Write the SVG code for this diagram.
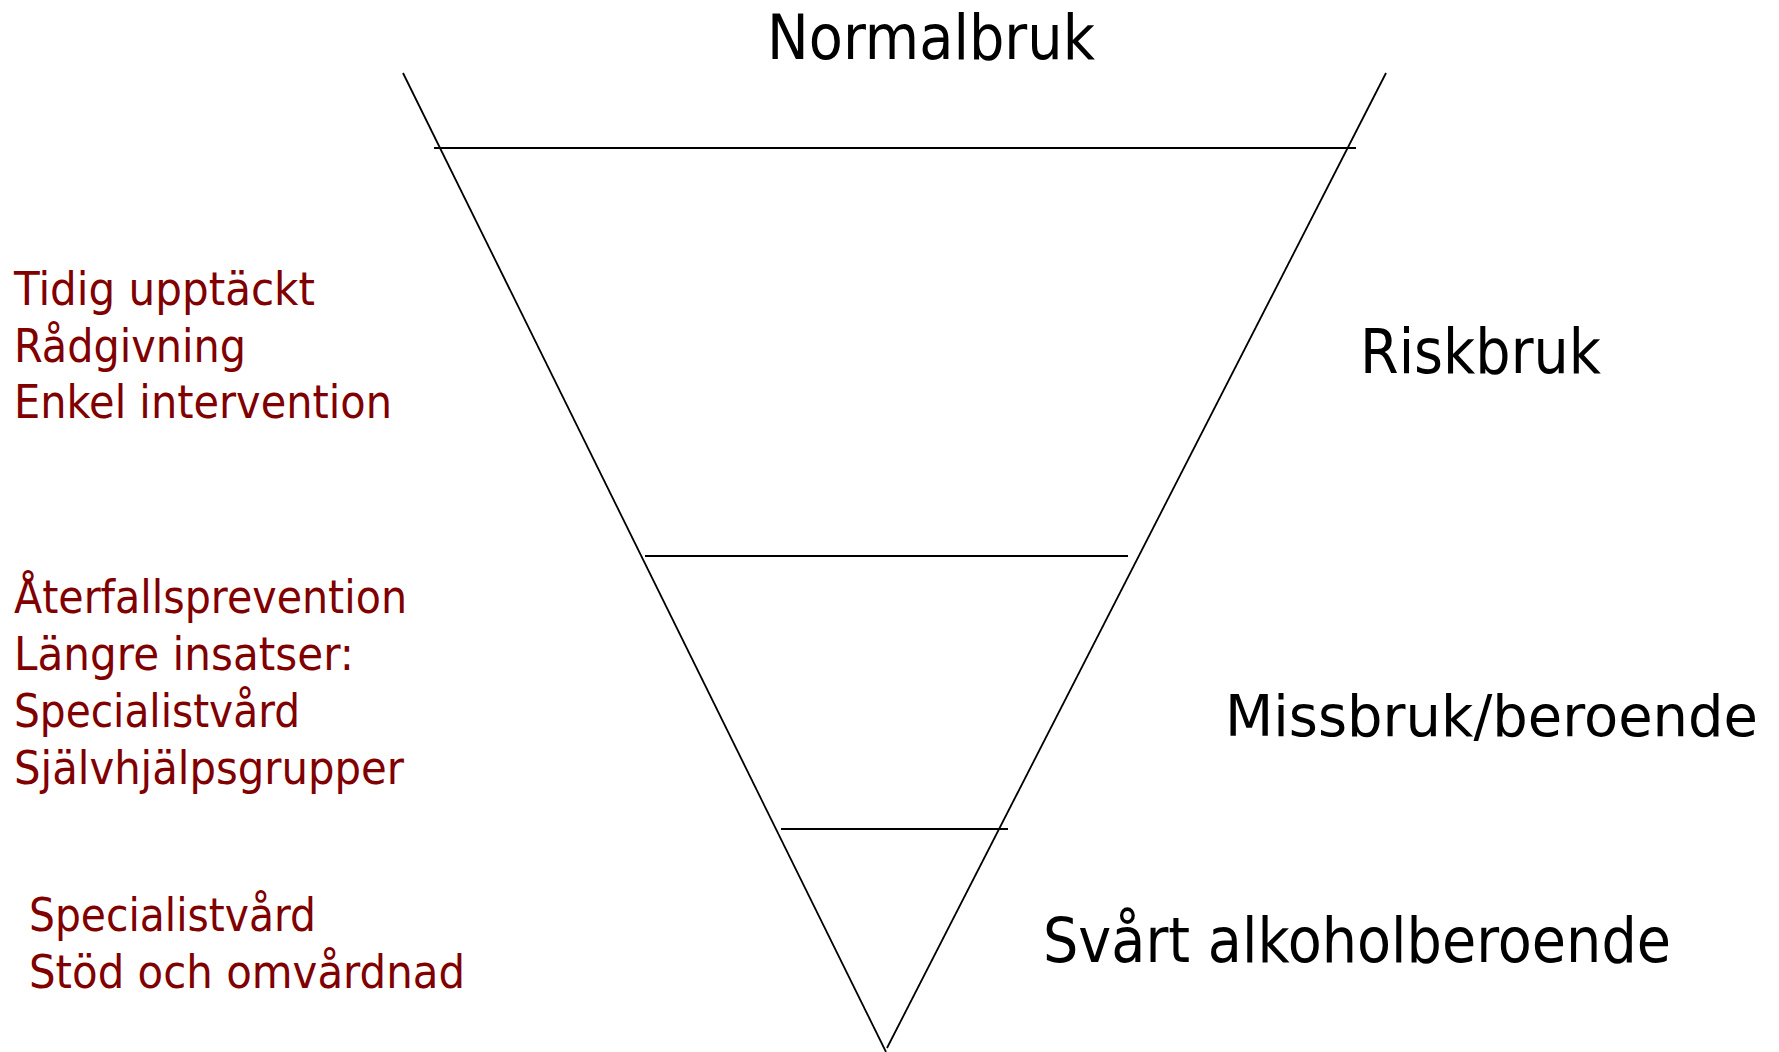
<svg xmlns="http://www.w3.org/2000/svg" width="1779" height="1052" viewBox="0 0 1779 1052">
<style>
.blk{font-family:"DejaVu Sans","Liberation Sans",sans-serif;font-size:63px;fill:#000}
.red{font-family:"DejaVu Sans","Liberation Sans",sans-serif;font-size:47px;fill:#800000}
.ln{stroke:#000;stroke-width:1.8;fill:none}
</style>
<rect width="1779" height="1052" fill="#fff"/>
<g id="connectors">
<line class="ln" x1="403" y1="73" x2="886" y2="1052"/>
<line class="ln" x1="1386" y1="73" x2="887" y2="1048"/>
<line class="ln" x1="434" y1="148" x2="1356" y2="148"/>
<line class="ln" x1="645" y1="556" x2="1128" y2="556"/>
<line class="ln" x1="781" y1="829" x2="1008" y2="829"/>
</g>
<g id="normalbruk"><text class="blk" x="767" y="59" textLength="328" lengthAdjust="spacingAndGlyphs">Normalbruk</text></g>
<g id="riskbruk"><text class="blk" x="1360" y="373" textLength="241" lengthAdjust="spacingAndGlyphs">Riskbruk</text></g>
<g id="missbruk"><text class="blk" x="1225" y="736" style="font-size:57.5px" textLength="533" lengthAdjust="spacingAndGlyphs">Missbruk/beroende</text></g>
<g id="svart"><text class="blk" x="1043" y="962" textLength="628" lengthAdjust="spacingAndGlyphs">Svårt alkoholberoende</text></g>
<g id="insatser-riskbruk">
<text class="red" x="14" y="305" textLength="301" lengthAdjust="spacingAndGlyphs">Tidig upptäckt</text>
<text class="red" x="14" y="362" textLength="232" lengthAdjust="spacingAndGlyphs">Rådgivning</text>
<text class="red" x="14" y="418" textLength="378" lengthAdjust="spacingAndGlyphs">Enkel intervention</text>
</g>
<g id="insatser-missbruk">
<text class="red" x="14" y="613" textLength="393" lengthAdjust="spacingAndGlyphs">Återfallsprevention</text>
<text class="red" x="14" y="670" textLength="340" lengthAdjust="spacingAndGlyphs">Längre insatser:</text>
<text class="red" x="14" y="727" textLength="286" lengthAdjust="spacingAndGlyphs">Specialistvård</text>
<text class="red" x="14" y="784" textLength="390" lengthAdjust="spacingAndGlyphs">Självhjälpsgrupper</text>
</g>
<g id="insatser-svart">
<text class="red" x="29" y="931" textLength="287" lengthAdjust="spacingAndGlyphs">Specialistvård</text>
<text class="red" x="29" y="988" textLength="436" lengthAdjust="spacingAndGlyphs">Stöd och omvårdnad</text>
</g>
</svg>
